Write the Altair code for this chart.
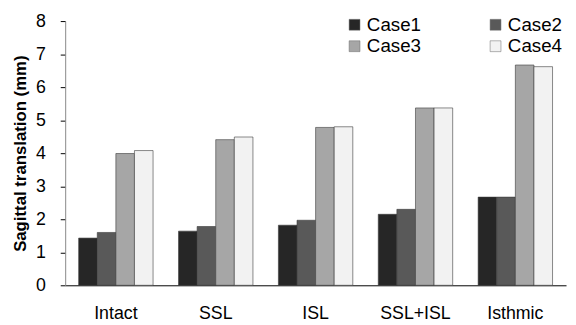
import altair as alt
import pandas as pd

categories = ["Intact", "SSL", "ISL", "SSL+ISL", "Isthmic"]
series = ["Case1", "Case2", "Case3", "Case4"]
case1 = [1.43, 1.64, 1.82, 2.15, 2.67]
case2 = [1.60, 1.78, 1.97, 2.30, 2.67]
case3 = [3.99, 4.41, 4.78, 5.37, 6.67]
case4 = [4.08, 4.49, 4.80, 5.37, 6.62]
colors = ["#262626", "#595959", "#a6a6a6", "#f2f2f2"]
y_ticks = [0, 1, 2, 3, 4, 5, 6, 7, 8]

rows = []
for s, vals in zip(series, [case1, case2, case3, case4]):
    for c, v in zip(categories, vals):
        rows.append({"category": c, "series": s, "value": v})
df = pd.DataFrame(rows)

font = "Liberation Sans"

chart = alt.Chart(df).mark_bar(stroke="#3a3a3a", strokeWidth=0.6).encode(
    x=alt.X("category:N", sort=categories,
            scale=alt.Scale(paddingInner=0.255, paddingOuter=0.135),
            axis=alt.Axis(title=None, labelAngle=0, ticks=False, labelPadding=20,
                          labelFontSize=18, labelFont=font, labelColor="#000",
                          domainColor="#000", domainWidth=1)),
    xOffset=alt.XOffset("series:N", sort=series),
    y=alt.Y("value:Q", scale=alt.Scale(domain=[0, 8], nice=False),
            axis=alt.Axis(title="Sagittal translation (mm)", values=y_ticks, grid=False,
                          tickSize=5, tickColor="#000", domainColor="#888", domainWidth=1,
                          labelFontSize=18, labelFont=font, labelColor="#000", labelPadding=15,
                          titleFont=font, titleFontSize=17, titleFontWeight="bold",
                          titleColor="#000", titlePadding=6)),
    color=alt.Color("series:N", sort=series,
                    scale=alt.Scale(domain=series, range=colors),
                    legend=alt.Legend(title=None, orient="none", legendX=284, legendY=-6,
                                      direction="horizontal",
                                      columns=2, columnPadding=66, rowPadding=2,
                                      symbolType="square", symbolSize=121,
                                      symbolStrokeColor="#666", symbolStrokeWidth=0.5,
                                      labelFont=font, labelFontSize=19, labelColor="#000",
                                      labelOffset=3)),
).properties(
    width=508, height=268,
    autosize=alt.AutoSizeParams(type="none"),
    padding={"left": 58, "top": 11, "right": 2, "bottom": 38},
).configure_view(stroke=None)

chart.save("out.html", embed_options={"renderer": "svg", "actions": False})
